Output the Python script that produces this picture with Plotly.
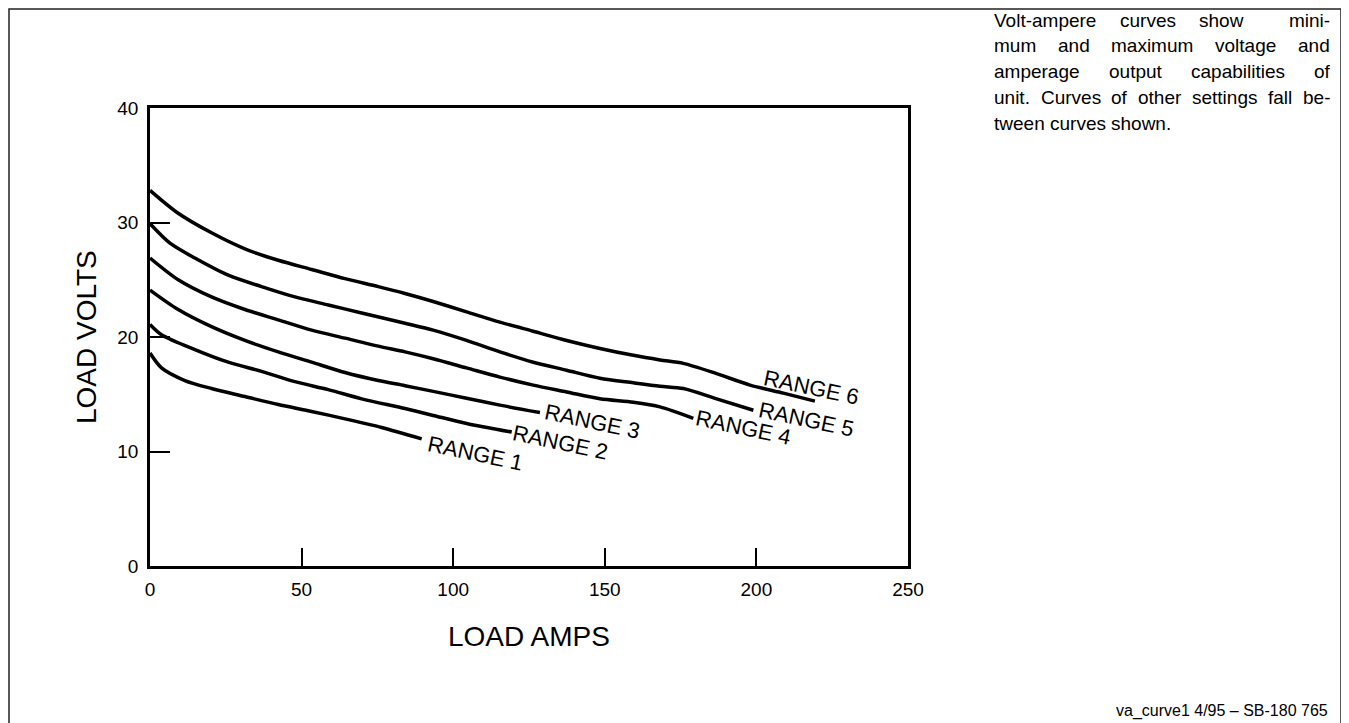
import plotly.graph_objects as go

# ---------------- data ----------------
amps_r1 = [0, 3.8, 11.5, 20.3, 31.3, 42.3, 53.3, 64.3, 76.4, 89.6]
volts_r1 = [18.6, 17.3, 16.2, 15.5, 14.8, 14.1, 13.5, 12.85, 12.1, 11.1]

amps_r2 = [0, 3.8, 14.8, 25.8, 36.8, 47.8, 58.8, 69.8, 84.1, 93.4, 104.4, 119.3]
volts_r2 = [21.1, 20.2, 18.9, 17.8, 17.0, 16.1, 15.4, 14.6, 13.75, 13.15, 12.45, 11.7]

amps_r3 = [0, 9.3, 20.3, 31.3, 42.3, 53.3, 64.3, 75.3, 84.1, 93.4, 104.4, 115.4, 128.6]
volts_r3 = [24.1, 22.4, 20.9, 19.7, 18.7, 17.8, 16.9, 16.2, 15.75, 15.25, 14.65, 14.05, 13.4]

amps_r4 = [0, 9.3, 20.3, 31.3, 42.3, 53.3, 64.3, 75.3, 84.1, 93.4, 104.4, 115.4,
           126.4, 137.4, 148.4, 159.4, 168.2, 179.2]
volts_r4 = [26.9, 25.0, 23.5, 22.4, 21.5, 20.6, 19.9, 19.2, 18.7, 18.1, 17.3, 16.5,
            15.8, 15.2, 14.6, 14.3, 13.9, 12.9]

amps_r5 = [0, 6.6, 14.8, 25.8, 36.8, 47.8, 58.8, 69.8, 84.1, 93.4, 104.4, 115.4,
           126.4, 137.4, 148.4, 159.4, 168.2, 175.9, 186.9, 199.0]
volts_r5 = [29.9, 28.2, 26.9, 25.4, 24.4, 23.5, 22.8, 22.1, 21.2, 20.6, 19.7, 18.7,
            17.8, 17.1, 16.4, 16.0, 15.7, 15.5, 14.6, 13.6]

amps_r6 = [0, 8.8, 20.3, 31.3, 42.3, 53.3, 64.3, 75.3, 84.1, 93.4, 104.4, 115.4,
           126.4, 137.4, 148.4, 159.4, 168.2, 175.9, 186.9, 197.9, 208.9, 219.3]
volts_r6 = [32.8, 30.9, 29.1, 27.7, 26.7, 25.9, 25.1, 24.4, 23.8, 23.1, 22.2, 21.3,
            20.5, 19.7, 19.0, 18.4, 18.0, 17.7, 16.8, 15.8, 15.1, 14.4]

range_names = ["RANGE 1", "RANGE 2", "RANGE 3", "RANGE 4", "RANGE 5", "RANGE 6"]
label_amps = [107.5, 135.5, 146.0, 195.6, 216.6, 218.3]
label_volts = [9.8, 10.8, 12.6, 12.1, 12.8, 15.6]

x_ticks = [0, 50, 100, 150, 200, 250]
y_ticks = [0, 10, 20, 30, 40]

note_lines = ["Volt-ampere curves show  mini-",
              "mum and maximum voltage and",
              "amperage output capabilities of",
              "unit. Curves of other settings fall be-",
              "tween curves shown."]
footer = "va_curve1 4/95 \u2013 SB-180 765"

# ---------------- layout geometry ----------------
OFF = 8                      # page body margin around the plot div
W, H = 1341, 715
L, T = 142, 100
PW, PH = 758, 458
R, B = W - L - PW, H - T - PH


def fx(x_img):
    return (x_img - OFF - L) / PW


def fy(y_img):
    return (H - B - (y_img - OFF)) / PH


FONT = "Arial, 'Liberation Sans', Helvetica, sans-serif"

# Arial / Liberation Sans advance widths (em) for simulated justification of the note
AW = {' ': .278, '-': .333, '.': .278, 'a': .556, 'b': .556, 'c': .5, 'd': .556,
      'e': .556, 'f': .278, 'g': .556, 'h': .556, 'i': .222, 'l': .222, 'm': .833,
      'n': .556, 'o': .556, 'p': .556, 'r': .333, 's': .5, 't': .278, 'u': .556,
      'v': .5, 'w': .722, 'x': .5, 'y': .5, 'C': .722, 'V': .667}


def text_w(s, size):
    return sum(AW.get(c, .55) for c in s) * size


fig = go.Figure()
series = [(amps_r1, volts_r1), (amps_r2, volts_r2), (amps_r3, volts_r3),
          (amps_r4, volts_r4), (amps_r5, volts_r5), (amps_r6, volts_r6)]
for (xa, ya), name in zip(series, range_names):
    fig.add_trace(go.Scatter(x=xa, y=ya, mode="lines", name=name,
                             line=dict(color="black", width=3.5, shape="spline", smoothing=0.8),
                             showlegend=False, hoverinfo="skip"))

annotations = []
for name, xa, ya in zip(range_names, label_amps, label_volts):
    annotations.append(dict(x=xa, y=ya, xref="x", yref="y", text=name, showarrow=False,
                            xanchor="center", yanchor="middle", textangle=12,
                            font=dict(size=22, color="black", family=FONT)))

annotations.append(dict(x=fx(529), y=fy(636), xref="paper", yref="paper", text="LOAD AMPS",
                        showarrow=False, xanchor="center", yanchor="middle",
                        font=dict(size=28, color="black", family=FONT)))
annotations.append(dict(x=fx(86), y=fy(337), xref="paper", yref="paper", text="LOAD VOLTS",
                        showarrow=False, xanchor="center", yanchor="middle", textangle=-90,
                        font=dict(size=28, color="black", family=FONT)))

# justified note block (top right)
NOTE_SIZE = 19
NOTE_X0, NOTE_X1 = 993, 1329
NOTE_Y0, NOTE_DY = 20, 25.8
for i, line in enumerate(note_lines):
    parts = line.split(" ")
    words = [p for p in parts if p]
    # weight of each gap = number of spaces in the source line
    weights, cnt = [], 0
    for p in parts[1:]:
        cnt += 1
        if p:
            weights.append(cnt)
            cnt = 0
    widths = [text_w(w, NOTE_SIZE) for w in words]
    if i < len(note_lines) - 1 and len(words) > 1:
        unit = (NOTE_X1 - NOTE_X0 - sum(widths)) / sum(weights)
    else:
        unit = AW[' '] * NOTE_SIZE
    xpos = NOTE_X0
    for k, (w, wd) in enumerate(zip(words, widths)):
        annotations.append(dict(x=fx(xpos), y=fy(NOTE_Y0 + i * NOTE_DY), xref="paper", yref="paper",
                                text=w, showarrow=False, xanchor="left", yanchor="middle",
                                borderpad=0,
                                font=dict(size=NOTE_SIZE, color="black", family=FONT)))
        if k < len(weights):
            xpos += wd + unit * weights[k]

annotations.append(dict(x=fx(1330), y=fy(711), xref="paper", yref="paper", text=footer,
                        showarrow=False, xanchor="right", yanchor="middle",
                        font=dict(size=16, color="black", family=FONT)))

fig.update_layout(
    width=W, height=H,
    margin=dict(l=L, r=R, t=T, b=B, pad=0),
    paper_bgcolor="white", plot_bgcolor="white",
    font=dict(family=FONT, color="black"),
    annotations=annotations,
    shapes=[dict(type="rect", xref="paper", yref="paper",
                 x0=(1 - L) / PW, x1=fx(1341),
                 y0=fy(730), y1=(H - B - 1) / PH,
                 line=dict(color="#222", width=1.5), layer="below")],
)
fig.update_xaxes(range=[0, 250], tickvals=x_ticks, ticks="inside", ticklen=18, tickwidth=1.5,
                 tickcolor="black", showline=True, linecolor="black", linewidth=2.5, mirror=True,
                 showgrid=False, zeroline=False, ticklabelstandoff=4,
                 tickfont=dict(size=19, family=FONT, color="black"))
fig.update_yaxes(range=[0, 40], tickvals=y_ticks, ticks="inside", ticklen=20, tickwidth=1.5,
                 tickcolor="black", showline=True, linecolor="black", linewidth=2.5, mirror=True,
                 showgrid=False, zeroline=False, ticklabelstandoff=5,
                 tickfont=dict(size=19, family=FONT, color="black"))

fig.write_html("out.html")
